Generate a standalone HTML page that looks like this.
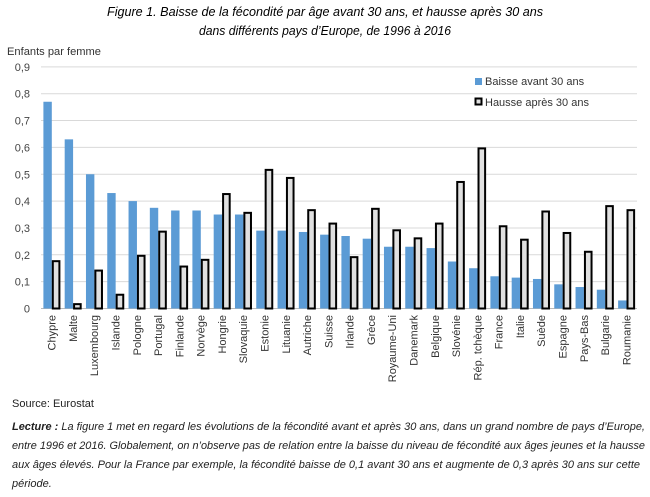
<!DOCTYPE html>
<html><head><meta charset="utf-8">
<style>
html,body{margin:0;padding:0;background:#fff;}
svg{display:block;font-family:"Liberation Sans",sans-serif;}
</style></head><body>
<svg id="s" width="650" height="497" viewBox="0 0 650 497" xmlns="http://www.w3.org/2000/svg">
<text x="325" y="16" text-anchor="middle" font-size="13" font-style="italic" fill="#000" textLength="436" lengthAdjust="spacingAndGlyphs">Figure 1. Baisse de la fécondité par âge avant 30 ans, et hausse après 30 ans</text>
<text x="325" y="35" text-anchor="middle" font-size="13" font-style="italic" fill="#000" textLength="252" lengthAdjust="spacingAndGlyphs">dans différents pays d’Europe, de 1996 à 2016</text>
<text x="7" y="55" font-size="11" fill="#333" textLength="94" lengthAdjust="spacingAndGlyphs">Enfants par femme</text>
<g id="grid"></g>
<g id="bars"></g>
<g id="labels"></g>
<rect x="475" y="78" width="7" height="7" fill="#5b9bd5"/>
<text x="485" y="85" font-size="11" fill="#333">Baisse avant 30 ans</text>
<rect x="475.5" y="98.5" width="6" height="6" fill="#e0e0e0" stroke="#000" stroke-width="2"/>
<text x="485" y="106" font-size="11" fill="#333">Hausse après 30 ans</text>
<text x="12" y="407" font-size="11" fill="#222">Source: Eurostat</text>
<text x="12" y="430" font-size="11" fill="#222" textLength="633" lengthAdjust="spacingAndGlyphs"><tspan font-weight="bold" font-style="italic">Lecture :</tspan><tspan font-style="italic"> La figure 1 met en regard les évolutions de la fécondité avant et après 30 ans, dans un grand nombre de pays d’Europe,</tspan></text>
<text x="12" y="449" font-size="11" font-style="italic" fill="#222" textLength="633" lengthAdjust="spacingAndGlyphs">entre 1996 et 2016. Globalement, on n’observe pas de relation entre la baisse du niveau de fécondité aux âges jeunes et la hausse</text>
<text x="12" y="468" font-size="11" font-style="italic" fill="#222" textLength="628" lengthAdjust="spacingAndGlyphs">aux âges élevés. Pour la France par exemple, la fécondité baisse de 0,1 avant 30 ans et augmente de 0,3 après 30 ans sur cette</text>
<text x="12" y="487" font-size="11" font-style="italic" fill="#222">période.</text>
</svg>
<script>
var NS="http://www.w3.org/2000/svg";
function el(p,t,a,txt){var e=document.createElementNS(NS,t);for(var k in a)e.setAttribute(k,a[k]);if(txt!=null)e.textContent=txt;document.getElementById(p).appendChild(e);}
var y0=308.5,u=268.5,x0=41,x1=637;
for(var i=0;i<=9;i++){var y=y0-i*u/10;
 el("grid","line",{x1:x0,x2:x1,y1:y,y2:y,stroke:i==0?"#bbb":"#d9d9d9","stroke-width":1});
 el("grid","text",{x:30,y:y+4,"font-size":11,fill:"#444","text-anchor":"end"},i==0?"0":"0,"+i);}
var c=["Chypre","Malte","Luxembourg","Islande","Pologne","Portugal","Finlande","Norvège","Hongrie","Slovaquie","Estonie","Lituanie","Autriche","Suisse","Irlande","Grèce","Royaume-Uni","Danemark","Belgique","Slovénie","Rép. tchèque","France","Italie","Suède","Espagne","Pays-Bas","Bulgarie","Roumanie"];
var b=[.77,.63,.50,.43,.40,.375,.365,.365,.35,.35,.29,.29,.285,.275,.27,.26,.23,.23,.225,.175,.15,.12,.115,.11,.09,.08,.07,.03];
var h=[.18,.02,.145,.055,.20,.29,.16,.185,.43,.36,.52,.49,.37,.32,.195,.375,.295,.265,.32,.475,.60,.31,.26,.365,.285,.215,.385,.37];
var w=(x1-x0)/c.length;
for(var i=0;i<c.length;i++){var cx=x0+i*w;
 el("bars","rect",{x:cx+2.4,y:y0-b[i]*u,width:8.4,height:b[i]*u,fill:"#5b9bd5"});
 var hh=h[i]*u;
 el("bars","rect",{x:cx+11.8,y:y0-hh+1,width:6.6,height:Math.max(hh-1,1),fill:"#e0e0e0",stroke:"#000","stroke-width":2});
 var mx=cx+w/2+4;
 el("labels","text",{x:0,y:0,"font-size":11,fill:"#333","text-anchor":"end",transform:"translate("+mx+",315) rotate(-90)"},c[i]);}
</script>
</body></html>
